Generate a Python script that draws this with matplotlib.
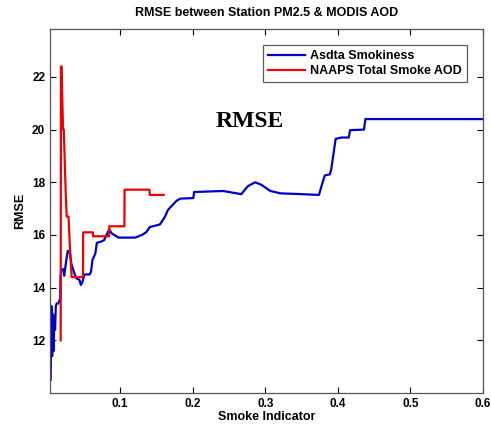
import matplotlib.pyplot as plt

# Asdta Smokiness curve (smoke indicator vs RMSE)
asdta_x = [0.0044, 0.0055, 0.0065, 0.0075, 0.0085, 0.0095, 0.0105, 0.0115, 0.0127, 0.015, 0.0177,
           0.018, 0.0192, 0.022, 0.023, 0.026, 0.028, 0.031, 0.033, 0.037, 0.040, 0.044, 0.046,
           0.048, 0.051, 0.058, 0.060, 0.062, 0.066, 0.068, 0.074, 0.078, 0.083, 0.085, 0.089,
           0.098, 0.121, 0.130, 0.136, 0.141, 0.155, 0.162, 0.166, 0.171, 0.178, 0.183, 0.201,
           0.202, 0.242, 0.267, 0.276, 0.286, 0.295, 0.307, 0.321, 0.350, 0.374, 0.378, 0.382,
           0.389, 0.391, 0.397, 0.405, 0.415, 0.417, 0.436, 0.438, 0.600]
asdta_y = [10.5, 13.3, 11.4, 13.0, 11.6, 12.9, 12.4, 13.3, 13.4, 13.4, 13.6,
           14.4, 14.7, 14.7, 14.45, 15.05, 15.4, 15.3, 14.9, 14.55, 14.35, 14.3, 14.1,
           14.2, 14.5, 14.5, 14.6, 15.05, 15.3, 15.7, 15.75, 15.8, 16.1, 16.2, 16.05,
           15.9, 15.9, 16.0, 16.1, 16.3, 16.4, 16.7, 16.95, 17.1, 17.3, 17.38, 17.4,
           17.63, 17.67, 17.55, 17.85, 18.0, 17.9, 17.67, 17.58, 17.55, 17.52, 17.9, 18.26,
           18.3, 18.5, 19.65, 19.7, 19.7, 19.98, 20.0, 20.4, 20.4]

# NAAPS Total Smoke AOD curve
naaps_x = [0.0182, 0.0186, 0.0195, 0.0205, 0.0210, 0.0215, 0.0225, 0.0250, 0.0265, 0.0290,
           0.0310, 0.0334, 0.0490, 0.0492, 0.0627, 0.0629, 0.0850, 0.0852, 0.1060, 0.1062,
           0.1405, 0.1410, 0.1600]
naaps_y = [12.0, 22.4, 22.4, 21.1, 20.5, 20.0, 20.0, 17.7, 16.7, 16.7,
           15.5, 14.4, 14.4, 16.1, 16.1, 15.95, 15.95, 16.33, 16.33, 17.72,
           17.72, 17.52, 17.52]

x_ticks = [0.1, 0.2, 0.3, 0.4, 0.5, 0.6]
y_ticks = [12, 14, 16, 18, 20, 22]

plt.rcParams['font.family'] = ['Liberation Sans', 'DejaVu Sans']
plt.rcParams['font.weight'] = 'bold'

fig = plt.figure(figsize=(4.91, 4.30), dpi=100)
ax = fig.add_axes([50 / 491, 37 / 430, 433 / 491, 364 / 430])

ax.plot(asdta_x, asdta_y, color='#0000cc', linewidth=1.6, label='Asdta Smokiness')
ax.plot(naaps_x, naaps_y, color='#ee0000', linewidth=1.6, label='NAAPS Total Smoke AOD')

ax.set_xlim(0.0035, 0.6)
ax.set_ylim(10.0, 23.82)
ax.set_xticks(x_ticks)
ax.set_xticklabels([str(t) for t in x_ticks])
ax.set_yticks(y_ticks)
ax.tick_params(direction='in', top=True, right=True, labelsize=8.5, length=4, width=0.8)
for lab in ax.get_xticklabels() + ax.get_yticklabels():
    lab.set_fontweight('bold')
for s in ax.spines.values():
    s.set_color('#555555')
    s.set_linewidth(0.9)

ax.set_xlabel('Smoke Indicator', fontsize=9, fontweight='bold', labelpad=1)
ax.set_ylabel('RMSE', fontsize=9, fontweight='bold', labelpad=4)
ax.set_title('RMSE between Station PM2.5 & MODIS AOD', fontsize=9, fontweight='bold', pad=9)

ax.text(0.279, 20.3, 'RMSE', fontsize=17, fontweight='bold', family='Liberation Serif',
        ha='center', va='center')

leg = ax.legend(loc='upper right', fontsize=9, frameon=True, fancybox=False,
                borderaxespad=1.3, handlelength=3.0, handletextpad=0.4,
                borderpad=0.4, labelspacing=0.25)
leg.get_frame().set_edgecolor('#333333')
leg.get_frame().set_linewidth(0.9)
for t in leg.get_texts():
    t.set_fontweight('bold')

fig.savefig('out.png', dpi=100)
